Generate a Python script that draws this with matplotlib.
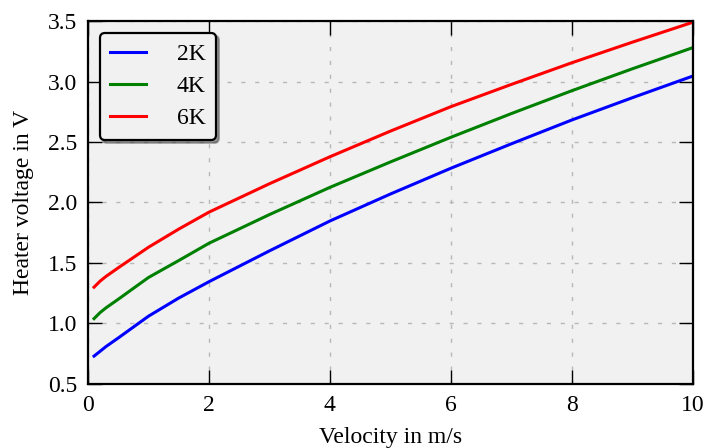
import matplotlib.pyplot as plt
import numpy as np

plt.rcParams['font.family'] = ['Liberation Serif', 'DejaVu Serif']
plt.rcParams['mathtext.fontset'] = 'stix'

velocity = [0.1, 0.2, 0.3, 0.5, 0.75, 1, 1.5, 2, 3, 4, 5, 6, 7, 8, 9, 10]
u_2k = [0.73, 0.77, 0.81, 0.88, 0.97, 1.06, 1.21, 1.345, 1.60, 1.847, 2.07, 2.283, 2.485, 2.682, 2.866, 3.045]
u_4k = [1.04, 1.09, 1.13, 1.20, 1.29, 1.38, 1.52, 1.663, 1.90, 2.125, 2.335, 2.539, 2.735, 2.924, 3.105, 3.28]
u_6k = [1.30, 1.35, 1.39, 1.46, 1.545, 1.63, 1.78, 1.92, 2.155, 2.378, 2.59, 2.792, 2.976, 3.155, 3.325, 3.49]
labels = ['2K', '4K', '6K']

fig = plt.figure(figsize=(7.04, 4.48), dpi=100)
ax = fig.add_axes([0.125, 0.143, 0.859, 0.81])
ax.set_facecolor('#f1f1f1')

ax.plot(velocity, u_2k, color='b', linewidth=2.2, label=labels[0])
ax.plot(velocity, u_4k, color='g', linewidth=2.2, label=labels[1])
ax.plot(velocity, u_6k, color='r', linewidth=2.2, label=labels[2])

ax.set_xlim(0, 10)
ax.set_ylim(0.5, 3.5)
ax.set_xticks(np.arange(0, 11, 2))
ax.set_yticks(np.arange(0.5, 3.51, 0.5))
ax.tick_params(direction='in', length=10, width=1, top=True, right=True,
               labelsize=17, pad=8)
for s in ax.spines.values():
    s.set_linewidth(1.6)
ax.grid(True, color='#b8b8b8', linestyle=(0, (3, 7)), linewidth=1)

ax.set_xlabel('Velocity in m/s', fontsize=17, labelpad=8)
ax.set_ylabel('Heater voltage in V', fontsize=17, labelpad=10)

leg = ax.legend(loc='upper left', fontsize=17, shadow=True, fancybox=True,
                handlelength=1.5, handletextpad=1.3, borderpad=0.45,
                labelspacing=0.45, borderaxespad=0.5)
leg.get_frame().set_edgecolor('black')
leg.get_frame().set_linewidth(1.6)
leg.get_frame().set_facecolor('#f1f1f1')
leg.get_frame().set_alpha(1)

fig.savefig('out.png', dpi=100)
